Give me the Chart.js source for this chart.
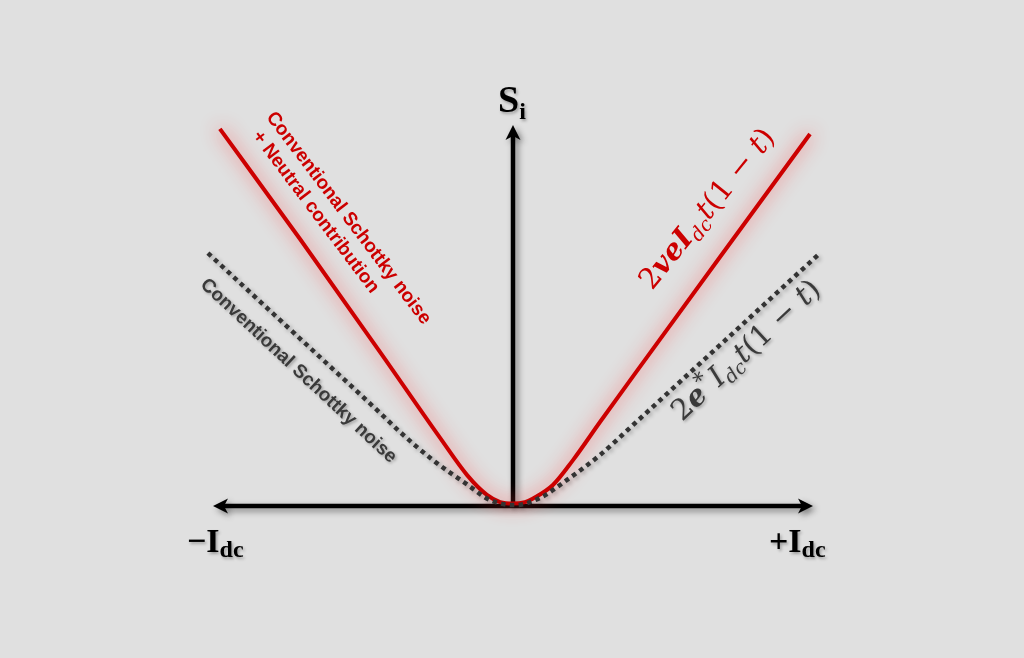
<!DOCTYPE html>
<html>
<head>
<meta charset="utf-8">
<script src="https://cdn.jsdelivr.net/npm/chart.js@4.4.1/dist/chart.umd.min.js"></script>
<style>
html, body { margin: 0; padding: 0; background: #e0e0e0; overflow: hidden; }
#chart { display: block; }
</style>
</head>
<body>
<canvas id="chart" width="1024" height="658"></canvas>
<script>
// curve points: x in units of Idc, y in units of Si
const red_x = [-0.977, -0.71, -0.443, -0.243, -0.153, -0.087, -0.043, 0, 0.04, 0.067, 0.133, 0.2, 0.29, 0.437, 0.69, 0.99];
const red_y = [1.257, 0.89, 0.513, 0.227, 0.103, 0.037, 0.013, 0.008, 0.013, 0.025, 0.07, 0.153, 0.28, 0.483, 0.83, 1.24];
const dot_x = [-1.017, -0.71, -0.443, -0.377, -0.267, -0.153, -0.077, 0.007, 0.09, 0.18, 0.29, 0.4, 0.623, 1.017];
const dot_y = [0.843, 0.558, 0.31, 0.247, 0.153, 0.072, 0.02, 0.003, 0.027, 0.087, 0.17, 0.27, 0.475, 0.837];
const x_range = [-1, 1];
const y_range = [0, 1.27];

const series_names = ['Conventional Schottky noise', 'Conventional Schottky noise + Neutral contribution'];

function toPoints(xs, ys){
    let pts = [];
    xs.forEach((v, i) => {
        pts.push({x: v, y: ys[i]});
    });
    return pts;
}

const serif = '"Liberation Serif", "DejaVu Serif", serif';
const math = '"DejaVu Serif", serif';
const sans = '"Liberation Sans", Arial, sans-serif';

// text pieces drawn on the canvas
const labels = [
    { px: 498, py: 112, angle: 0, color: '#000', shadow: true, runs: [
        {text: 'S', font: 'bold 38px ' + serif},
        {text: 'i', font: 'bold 24px ' + serif, dy: 7}
    ]},
    { px: 187, py: 552, angle: 0, color: '#000', shadow: true, runs: [
        {text: '\u2212I', font: 'bold 34px ' + serif},
        {text: 'dc', font: 'bold 24px ' + serif, dy: 5}
    ]},
    { px: 769, py: 552, angle: 0, color: '#000', shadow: true, runs: [
        {text: '+I', font: 'bold 34px ' + serif},
        {text: 'dc', font: 'bold 24px ' + serif, dy: 5}
    ]},
    { px: 270, py: 114, angle: 53, color: '#cc0000', baseline: 'middle', runs: [
        {text: 'Conventional Schottky noise', font: 'bold 19px ' + sans}
    ]},
    { px: 256, py: 133, angle: 53, color: '#cc0000', baseline: 'middle', runs: [
        {text: '+ Neutral contribution', font: 'bold 19px ' + sans}
    ]},
    { px: 203, py: 282, angle: 43, color: '#3a3a3a', baseline: 'middle', shadow: true, runs: [
        {text: 'Conventional Schottky noise', font: 'bold 19px ' + sans}
    ]},
    { px: 652, py: 291, angle: -51, color: '#cc0000', runs: [
        {text: '2', font: '29px ' + math},
        {text: 've', font: 'italic bold 29px ' + math},
        {text: 'I', font: 'italic bold 29px ' + math},
        {text: 'dc', font: 'italic 19px ' + math, dy: 6},
        {text: 't', font: 'italic 29px ' + math},
        {text: '(1 \u2212 ', font: '29px ' + math},
        {text: 't', font: 'italic 29px ' + math},
        {text: ')', font: '29px ' + math}
    ]},
    { px: 682, py: 422, angle: -43, color: '#3a3a3a', shadow: true, runs: [
        {text: '2', font: '29px ' + math},
        {text: 'e', font: 'italic bold 29px ' + math},
        {text: '*', font: '22px ' + math, dy: -11},
        {text: ' ', font: '8px ' + math},
        {text: 'I', font: 'italic 29px ' + math},
        {text: 'dc', font: 'italic 19px ' + math, dy: 6},
        {text: 't', font: 'italic 29px ' + math},
        {text: '(1 \u2212 ', font: '29px ' + math},
        {text: 't', font: 'italic 29px ' + math},
        {text: ')', font: '29px ' + math}
    ]}
];

function arrowHead(ctx, tx, ty, dx, dy){
    // dx, dy: unit vector pointing at the tip
    let len = 15, half = 7.5, notch = 4;
    let nx = -dy, ny = dx;
    ctx.beginPath();
    ctx.moveTo(tx, ty);
    ctx.lineTo(tx - dx*len + nx*half, ty - dy*len + ny*half);
    ctx.lineTo(tx - dx*(len - notch), ty - dy*(len - notch));
    ctx.lineTo(tx - dx*len - nx*half, ty - dy*len - ny*half);
    ctx.closePath();
    ctx.fill();
}

const arrowAxes = {
    id: 'arrowAxes',
    beforeDatasetsDraw: (chart) => {
        const {ctx} = chart;
        const sx = chart.scales.x, sy = chart.scales.y;
        let x0 = sx.getPixelForValue(0);
        let y0 = sy.getPixelForValue(0);
        let left = sx.getPixelForValue(x_range[0]);
        let right = sx.getPixelForValue(x_range[1]);
        let top = sy.getPixelForValue(y_range[1]);
        ctx.save();
        ctx.shadowColor = 'rgba(0,0,0,0.45)';
        ctx.shadowBlur = 6;
        ctx.shadowOffsetX = 3;
        ctx.shadowOffsetY = 3;
        ctx.strokeStyle = '#000';
        ctx.fillStyle = '#000';
        ctx.lineWidth = 4.5;
        ctx.beginPath();
        ctx.moveTo(left + 10, y0);
        ctx.lineTo(right - 10, y0);
        ctx.moveTo(x0, y0 + 2);
        ctx.lineTo(x0, top + 10);
        ctx.stroke();
        arrowHead(ctx, left, y0, -1, 0);
        arrowHead(ctx, right, y0, 1, 0);
        arrowHead(ctx, x0, top, 0, -1);
        ctx.restore();
    }
};

const glow = {
    id: 'glow',
    beforeDatasetDraw: (chart, args) => {
        const ds = chart.data.datasets[args.index];
        const {ctx} = chart;
        ctx.save();
        ctx.shadowColor = ds.glowColor;
        ctx.shadowBlur = ds.glowBlur;
        ctx.shadowOffsetX = ds.glowOffset;
        ctx.shadowOffsetY = ds.glowOffset;
    },
    afterDatasetDraw: (chart) => {
        chart.ctx.restore();
    }
};

const textLabels = {
    id: 'textLabels',
    afterDatasetsDraw: (chart) => {
        const {ctx} = chart;
        labels.forEach(lab => {
            ctx.save();
            ctx.translate(lab.px, lab.py);
            ctx.rotate(lab.angle * Math.PI / 180);
            ctx.fillStyle = lab.color;
            ctx.textBaseline = lab.baseline || 'alphabetic';
            if(lab.shadow){
                ctx.shadowColor = 'rgba(0,0,0,0.3)';
                ctx.shadowBlur = 3;
                ctx.shadowOffsetX = 1.5;
                ctx.shadowOffsetY = 1.5;
            }
            let cx = 0;
            lab.runs.forEach(r => {
                ctx.font = r.font;
                ctx.fillText(r.text, cx, r.dy || 0);
                cx += ctx.measureText(r.text).width;
            });
            ctx.restore();
        });
    }
};

let chart = new Chart(document.getElementById('chart'), {
    type: 'scatter',
    data: {
        datasets: [{
            label: series_names[0],
            data: toPoints(dot_x, dot_y),
            showLine: true,
            borderColor: '#333333',
            borderWidth: 4.5,
            borderDash: [4.5, 4.3],
            borderCapStyle: 'butt',
            pointRadius: 0,
            cubicInterpolationMode: 'monotone',
            clip: false,
            glowColor: 'rgba(0,0,0,0.3)',
            glowBlur: 4,
            glowOffset: 2
        }, {
            label: series_names[1],
            data: toPoints(red_x, red_y),
            showLine: true,
            borderColor: '#cc0000',
            borderWidth: 4,
            pointRadius: 0,
            cubicInterpolationMode: 'monotone',
            clip: false,
            glowColor: 'rgba(255,60,60,0.85)',
            glowBlur: 18,
            glowOffset: 0
        }]
    },
    options: {
        responsive: false,
        animation: false,
        layout: {
            padding: {left: 213, right: 211, top: 125, bottom: 152}
        },
        scales: {
            x: {type: 'linear', min: x_range[0], max: x_range[1], display: false},
            y: {type: 'linear', min: y_range[0], max: y_range[1], display: false}
        },
        plugins: {
            legend: {display: false},
            tooltip: {enabled: false}
        }
    },
    plugins: [arrowAxes, glow, textLabels]
});
</script>
</body>
</html>
